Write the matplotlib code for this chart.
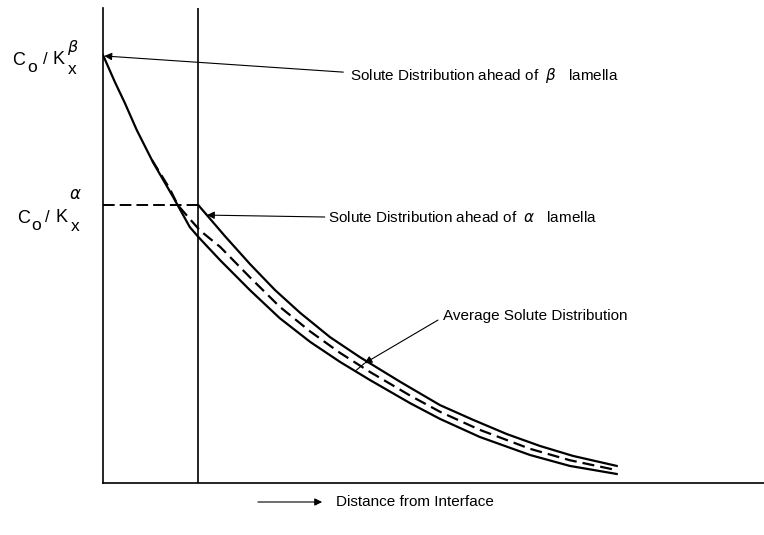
import matplotlib
matplotlib.use("Agg")
import matplotlib.pyplot as plt

plt.rcParams['font.family'] = ['Liberation Sans', 'DejaVu Sans']
plt.rcParams['mathtext.fontset'] = 'dejavusans'

# --- data (arbitrary units) ---
# solute distribution ahead of the beta lamella (lower solid curve)
x_beta = [0, 0.18, 0.33, 0.51, 0.76, 1.06, 1.31, 1.44, 1.77, 2.22, 2.67, 3.13,
          3.58, 4.03, 4.64, 5.09, 5.69, 6.45, 7.05, 7.76]
y_beta = [9.01, 8.44, 8.00, 7.43, 6.74, 6.02, 5.39, 5.18, 4.69, 4.06, 3.47, 2.97,
          2.55, 2.17, 1.68, 1.35, 0.97, 0.59, 0.36, 0.19]

# solute distribution ahead of the alpha lamella (upper solid curve)
x_alpha = [1.44, 1.84, 2.22, 2.60, 2.98, 3.43, 3.88, 4.49, 5.09, 5.59, 6.10,
           6.60, 7.10, 7.76]
y_alpha = [5.85, 5.20, 4.61, 4.06, 3.58, 3.07, 2.65, 2.13, 1.64, 1.33, 1.03,
           0.78, 0.57, 0.36]

# average solute distribution (dashed)
x_avg = [0.74, 0.86, 1.01, 1.13, 1.31, 1.47, 1.77, 2.22, 2.67, 3.13, 3.58, 4.03,
         4.64, 5.09, 5.69, 6.45, 7.05, 7.76]
y_avg = [6.80, 6.53, 6.19, 5.85, 5.56, 5.31, 4.97, 4.33, 3.71, 3.19, 2.74, 2.34,
         1.84, 1.50, 1.12, 0.72, 0.48, 0.27]

x_lamella = 1.44      # alpha/beta boundary
c_alpha = 5.85        # C0/Kx^alpha level

fig = plt.figure(figsize=(7.64, 5.35), dpi=100)
ax = fig.add_axes([103/764, 52/535, 662/764, 475/535])
ax.set_xlim(0, 10)
ax.set_ylim(0, 10)
for s in ['top', 'right']:
    ax.spines[s].set_visible(False)
for s in ['left', 'bottom']:
    ax.spines[s].set_linewidth(1.2)
ax.set_xticks([])
ax.set_yticks([])

# curves
ax.plot(x_beta, y_beta, color='k', lw=1.6, solid_joinstyle='round')
ax.plot(x_alpha, y_alpha, color='k', lw=1.6, solid_joinstyle='round')
ax.plot(x_avg, y_avg, color='k', lw=1.6, dashes=(5.4, 2.7))
ax.plot([0, x_lamella], [c_alpha, c_alpha], color='k', lw=1.4, dashes=(6, 2.6))
ax.axvline(x_lamella, color='k', lw=1.2)

# y labels  C_o / K_x^beta  and  C_o / K_x^alpha, built from pieces
lab = dict(va='baseline', ha='left', clip_on=False)
ax.text(-1.375, 8.80, 'C', fontsize=13, **lab)
ax.text(-1.15, 8.65, 'o', fontsize=12.5, **lab)
ax.text(-0.906, 8.83, '/', fontsize=12, **lab)
ax.text(-0.76, 8.83, 'K', fontsize=13, **lab)
ax.text(-0.53, 8.62, 'x', fontsize=12.5, **lab)
ax.text(-0.55, 9.07, r'$\beta$', fontsize=11.5, **lab)

ax.text(-1.30, 5.47, 'C', fontsize=13, **lab)
ax.text(-1.08, 5.32, 'o', fontsize=12.5, **lab)
ax.text(-0.876, 5.49, '/', fontsize=12, **lab)
ax.text(-0.72, 5.49, 'K', fontsize=13, **lab)
ax.text(-0.49, 5.30, 'x', fontsize=12.5, **lab)
ax.text(-0.52, 5.98, r'$\alpha$', fontsize=12, **lab)

arrow = dict(arrowstyle='-|>', color='k', lw=0.8, mutation_scale=11,
             shrinkA=0, shrinkB=0)

# annotations
ax.annotate('', xy=(0.02, 8.99), xytext=(3.63, 8.65), arrowprops=arrow)
ax.text(3.73, 8.49, r'Solute Distribution ahead of  $\beta$   lamella',
        fontsize=11, va='baseline')

ax.annotate('', xy=(1.57, 5.64), xytext=(3.35, 5.60), arrowprops=arrow)
ax.text(3.40, 5.50, r'Solute Distribution ahead of  $\alpha$   lamella',
        fontsize=11, va='baseline')

ax.annotate('', xy=(3.95, 2.52), xytext=(5.06, 3.43), arrowprops=arrow)
ax.plot([3.95, 3.83], [2.52, 2.38], color='k', lw=0.8)
ax.text(5.14, 3.43, 'Average Solute Distribution', fontsize=11, va='baseline')

# x label with arrow
ax.annotate('', xy=(3.31, -0.40), xytext=(2.34, -0.40), arrowprops=arrow,
            annotation_clip=False)
ax.text(3.52, -0.40, 'Distance from Interface', fontsize=11, va='center',
        clip_on=False)

fig.savefig('out.png', dpi=100)
